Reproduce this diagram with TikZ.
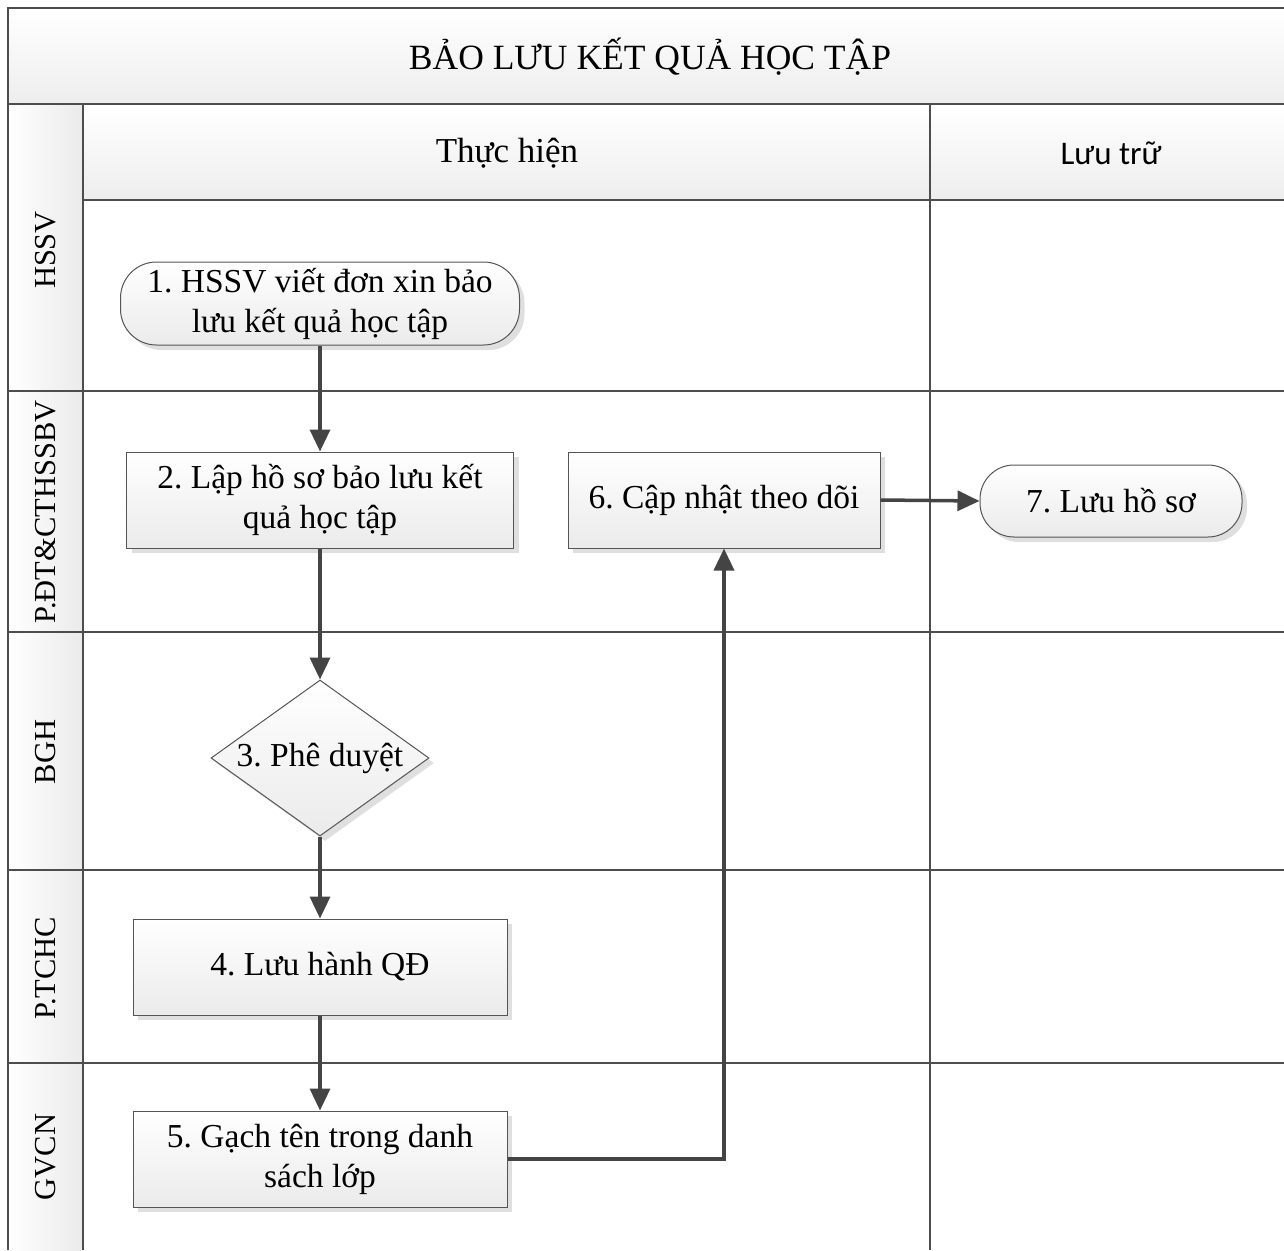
\documentclass[tikz,border=0pt]{standalone}
\usepackage{fontspec}
\setmainfont{Liberation Serif}
\newfontfamily\carlito{Carlito}
\usetikzlibrary{shapes.geometric,shadows,arrows.meta}
\definecolor{frame}{HTML}{4D4D4D}
\definecolor{arrowc}{HTML}{444444}
\definecolor{boxline}{HTML}{555555}
\tikzset{
  frameline/.style={draw=frame, line width=2.5pt},
  bandfill/.style={top color=white, bottom color=black!7, draw=none},
  lanefill/.style={left color=white, right color=black!8, draw=none},
  boxtext/.style={font=\frenchspacing\fontsize{33.5}{40}\selectfont, align=center},
  procbox/.style={boxtext, rectangle, draw=boxline, line width=1pt,
     top color=white, bottom color=black!8,
     drop shadow={shadow xshift=5pt, shadow yshift=-5pt, fill=black!25, opacity=0.5},
     inner sep=0pt},
  termbox/.style={procbox, rounded corners=36pt},
  decbox/.style={procbox, diamond, aspect=1.4},
  flow/.style={draw=arrowc, line width=3.5pt, -{Triangle[length=22pt,width=20pt]}},
  lanelabel/.style={rotate=90, font=\frenchspacing\fontsize{30.5}{36}\selectfont},
}
\begin{document}
\begin{tikzpicture}[x=1pt,y=-1pt]
\useasboundingbox (0,0) rectangle (1284,1250);
% fills
\fill[bandfill] (8,8) rectangle (1284,104);
\fill[bandfill] (83,104) rectangle (930,200);
\fill[bandfill] (930,104) rectangle (1284,200);
\fill[lanefill] (8,104) rectangle (83,391);
\fill[lanefill] (8,391) rectangle (83,632);
\fill[lanefill] (8,632) rectangle (83,870);
\fill[lanefill] (8,870) rectangle (83,1063);
\fill[lanefill] (8,1063) rectangle (83,1250);
% frame lines
\draw[frameline] (8,1250) -- (8,8) -- (1284,8);
\draw[frameline] (8,104) -- (1284,104);
\draw[frameline] (83,104) -- (83,1250);
\draw[frameline] (930,104) -- (930,1250);
\draw[frameline] (83,200) -- (1284,200);
\draw[frameline] (8,391) -- (1284,391);
\draw[frameline] (8,632) -- (1284,632);
\draw[frameline] (8,870) -- (1284,870);
\draw[frameline] (8,1063) -- (1284,1063);
% headers
\node[font=\fontsize{35.5}{40}\selectfont] (title) at (650,57) {BẢO LƯU KẾT QUẢ HỌC TẬP};
\node[font=\fontsize{35}{40}\selectfont] (colA) at (507,153) {Thực hiện};
\node[font=\carlito\fontsize{33}{40}\selectfont] (colB) at (1111,153) {Lưu trữ};
% lane labels
\node[lanelabel] (l1) at (46,250) {HSSV};
\node[lanelabel] (l2) at (46,512) {P.ĐT\&CTHSSBV};
\node[lanelabel] (l3) at (46,752) {BGH};
\node[lanelabel] (l4) at (46,968) {P.TCHC};
\node[lanelabel] (l5) at (46,1157) {GVCN};
% steps
\node[termbox, minimum width=399pt, minimum height=83pt] (n1) at (320,303.5) {1. HSSV viết đơn xin bảo\\lưu kết quả học tập};
\node[procbox, minimum width=387pt, minimum height=96pt] (n2) at (320,500) {2. Lập hồ sơ bảo lưu kết\\quả học tập};
\node[decbox, minimum width=218pt, minimum height=156pt] (n3) at (320,758) {3. Phê duyệt};
\node[procbox, minimum width=374pt, minimum height=96pt] (n4) at (320,967) {4. Lưu hành QĐ};
\node[procbox, minimum width=374pt, minimum height=96pt] (n5) at (320,1159) {5. Gạch tên trong danh\\sách lớp};
\node[procbox, minimum width=312pt, minimum height=96pt] (n6) at (724,500) {6. Cập nhật theo dõi};
\node[termbox, rounded corners=34pt, minimum width=262pt, minimum height=72pt] (n7) at (1111,501) {7. Lưu hồ sơ};
% connectors
\draw[flow] (n1.south) -- (n2.north);
\draw[flow] (n2.south) -- (n3.north);
\draw[flow] (n3.south) -- (n4.north);
\draw[flow] (n4.south) -- (n5.north);
\draw[flow] (n5.east) -| (n6.south);
\draw[flow] (n6.east) -- (n7.west);
\end{tikzpicture}
\end{document}
